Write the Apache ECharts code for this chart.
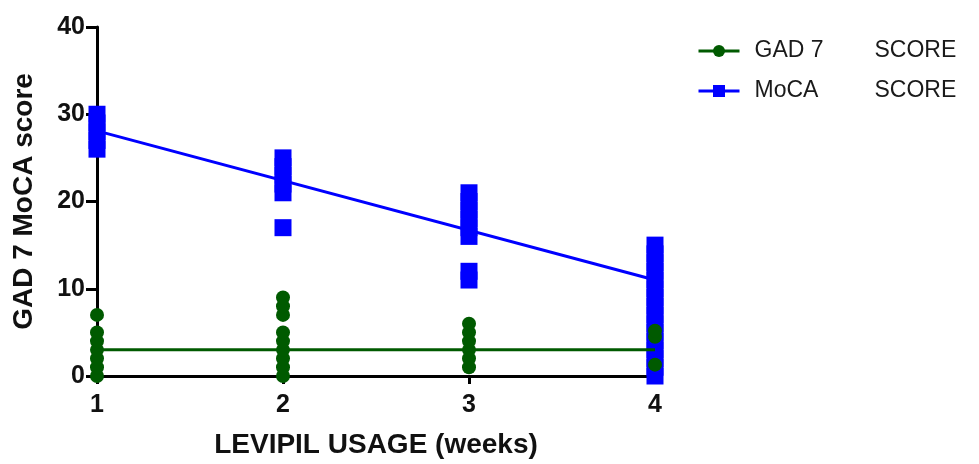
<!DOCTYPE html>
<html>
<head>
<meta charset="utf-8">
<script src="https://cdn.jsdelivr.net/npm/echarts@6/dist/echarts.min.js"></script>
<style>html,body{margin:0;padding:0;background:#fff;}#c{width:979px;height:464px;}</style>
</head>
<body>
<div id="c"></div>
<script>
const weeks = [1, 2, 3, 4];
const xTicks = ['1', '2', '3', '4'];
const yTicks = [0, 10, 20, 30, 40];
const gadValues = [
  [0, 1, 2, 3, 4, 5, 7],
  [0, 1, 2, 3, 4, 5, 7, 8, 9],
  [1, 2, 3, 4, 5, 6],
  [1.3, 4.5, 5.2]
];
const mocaValues = [
  [26, 27, 28, 29, 30],
  [17, 21, 22, 23, 24, 25],
  [11, 12, 16, 17, 18, 19, 20, 21],
  [0, 1, 2, 3, 4, 5, 6, 7, 8, 9, 10, 11, 12, 13, 14, 15]
];
const fitX = [1, 4];
const gadFit = [3.0, 3.0];
const mocaFit = [28.1, 11.0];
const seriesNames = ['GAD 7 SCORE', 'MoCA SCORE'];

const GREEN = '#005a00';
const BLUE = '#0000ff';
const FONT = 'Liberation Sans';

function toPoints(groups) {
  const out = [];
  groups.forEach((vals, i) => vals.forEach(v => out.push([weeks[i], v])));
  return out;
}
const gadPts = toPoints(gadValues);
const mocaPts = toPoints(mocaValues);
const gadLine = fitX.map((x, i) => [x, gadFit[i]]);
const mocaLine = fitX.map((x, i) => [x, mocaFit[i]]);

const chart = echarts.init(document.getElementById('c'), null, {renderer: 'canvas'});
chart.setOption({
  animation: false,
  backgroundColor: '#ffffff',
  grid: {left: 97, right: 324, top: 27, bottom: 84, containLabel: false},
  legend: {
    orient: 'vertical',
    left: 692,
    top: 33,
    itemWidth: 41,
    itemHeight: 15,
    itemGap: 14,
    data: seriesNames,
    lineStyle: {width: 3},
    formatter: function (name) {
      const idx = name.lastIndexOf(' ');
      return '{a|' + name.slice(0, idx) + '}{b|' + name.slice(idx + 1) + '}';
    },
    textStyle: {
      fontFamily: FONT,
      fontSize: 23,
      color: '#1a1a1a',
      lineHeight: 26,
      rich: {
        a: {fontFamily: FONT, fontSize: 23, color: '#1a1a1a', width: 120, padding: [0, 0, 0, 10]},
        b: {fontFamily: FONT, fontSize: 23, color: '#1a1a1a'}
      }
    }
  },
  xAxis: {
    type: 'value',
    min: 1, max: 4, interval: 1,
    name: 'LEVIPIL USAGE (weeks)',
    nameLocation: 'middle',
    nameGap: 55,
    nameTextStyle: {fontFamily: FONT, fontSize: 28, fontWeight: 'bold', color: '#111'},
    axisLine: {show: true, lineStyle: {color: '#000', width: 3}},
    axisTick: {show: true, length: 8, lineStyle: {color: '#000', width: 3}},
    axisLabel: {fontFamily: FONT, fontSize: 25, fontWeight: 'bold', color: '#111', margin: 17,
      formatter: v => xTicks[weeks.indexOf(v)] || ''},
    splitLine: {show: false}
  },
  yAxis: {
    type: 'value',
    min: 0, max: 40, interval: 10,
    name: 'GAD 7 MoCA score',
    nameLocation: 'middle',
    nameGap: 59,
    nameTextStyle: {fontFamily: FONT, fontSize: 28, fontWeight: 'bold', color: '#111'},
    axisLine: {show: true, lineStyle: {color: '#000', width: 3}},
    axisTick: {show: true, length: 11, lineStyle: {color: '#000', width: 3}},
    axisLabel: {fontFamily: FONT, fontSize: 25, fontWeight: 'bold', color: '#111', margin: 12,
      formatter: v => (yTicks.indexOf(v) >= 0 ? String(v) : '')},
    splitLine: {show: false}
  },
  series: [
    {
      name: seriesNames[0], type: 'line', data: gadLine,
      symbol: 'circle', showSymbol: false, z: 5,
      lineStyle: {color: GREEN, width: 3}, itemStyle: {color: GREEN}
    },
    {
      name: seriesNames[1], type: 'line', data: mocaLine,
      symbol: 'rect', showSymbol: false, z: 5,
      lineStyle: {color: BLUE, width: 3}, itemStyle: {color: BLUE}
    },
    {
      name: seriesNames[1], type: 'scatter', data: mocaPts,
      symbol: 'rect', symbolSize: 17, clip: false, z: 2,
      itemStyle: {color: BLUE, opacity: 1}
    },
    {
      name: seriesNames[0], type: 'scatter', data: gadPts,
      symbol: 'circle', symbolSize: 14, clip: false, z: 3,
      itemStyle: {color: GREEN, opacity: 1}
    }
  ]
});
</script>
</body>
</html>
